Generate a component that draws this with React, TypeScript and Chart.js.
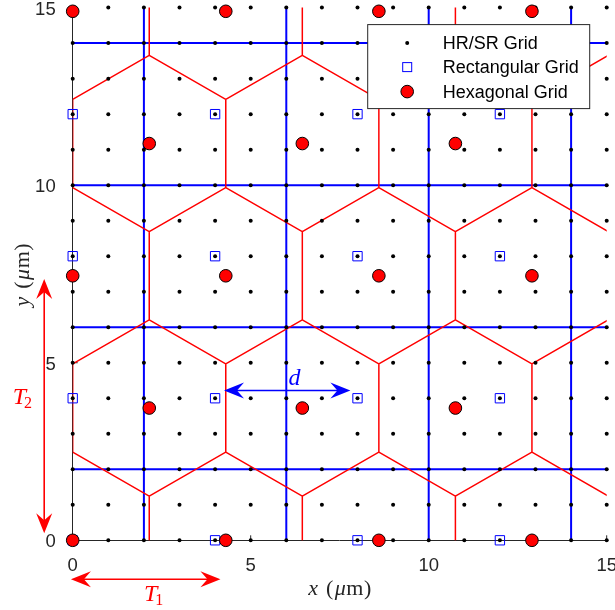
import { useEffect, useRef } from "react";
import { Chart, registerables } from "chart.js";

Chart.register(...registerables);

// HR/SR sampling grid: one sample per micron in each direction
const hrX = [0, 1, 2, 3, 4, 5, 6, 7, 8, 9, 10, 11, 12, 13, 14, 15];
const hrY = [0, 1, 2, 3, 4, 5, 6, 7, 8, 9, 10, 11, 12, 13, 14, 15];

// rectangular grid sites and the walls between their cells
const rectX = [0, 4, 8, 12];
const rectY = [0, 4, 8, 12];
const rectWallX = [2, 6, 10, 14];
const rectWallY = [2, 6, 10, 14];

// hexagonal grid sites: even rows use hexColsEven, odd rows hexColsOdd
const hexPitch = 4.3;
const hexRowY = [0, 3.724, 7.448, 11.172, 14.896];
const hexColsEven = [0, 4.3, 8.6, 12.9];
const hexColsOdd = [2.15, 6.45, 10.75];

const axisTicks = [0, 5, 10, 15];
const AXIS_MIN = 0;
const AXIS_MAX = 15;
const legendLabels = ["HR/SR Grid", "Rectangular Grid", "Hexagonal Grid"];

type Pt = { x: number; y: number | null };

const hrPoints: Pt[] = hrY.flatMap((y) => hrX.map((x) => ({ x, y })));
const rectPoints: Pt[] = rectY.flatMap((y) => rectX.map((x) => ({ x, y })));
const hexPoints: Pt[] = hexRowY.flatMap((y, i) =>
  (i % 2 === 0 ? hexColsEven : hexColsOdd).map((x) => ({ x, y }))
);

// straight cell walls of the rectangular grid, separated by gaps
const rectWalls: Pt[] = [];
rectWallX.forEach((x) => rectWalls.push({ x, y: AXIS_MIN }, { x, y: AXIS_MAX }, { x, y: null }));
rectWallY.forEach((y) => rectWalls.push({ x: AXIS_MIN, y }, { x: AXIS_MAX, y }, { x: AXIS_MIN, y: null }));

// hexagonal cell walls: every site draws its three right-hand edges, and one
// extra ring of sites outside the frame closes the cells along the border
const hexWalls: Pt[] = (() => {
  const out: Pt[] = [];
  const step = hexRowY[1] - hexRowY[0];
  const r = hexPitch / Math.sqrt(3);
  const half = hexPitch / 2;
  const rows = [
    { y: hexRowY[0] - step, odd: true },
    ...hexRowY.map((y, i) => ({ y, odd: i % 2 === 1 })),
    { y: hexRowY[hexRowY.length - 1] + step, odd: hexRowY.length % 2 === 1 },
  ];
  rows.forEach(({ y, odd }) => {
    const base = odd ? hexColsOdd : hexColsEven;
    const cols = [base[0] - hexPitch, ...base, base[base.length - 1] + hexPitch, base[base.length - 1] + 2 * hexPitch];
    cols.forEach((x) => {
      out.push(
        { x, y: y + r },
        { x: x + half, y: y + r / 2 },
        { x: x + half, y: y - r / 2 },
        { x, y: y - r },
        { x, y: null }
      );
    });
  });
  return out;
})();

const SANS = "'Liberation Sans', Arial, sans-serif";
const SERIF = "'Liberation Serif', 'Times New Roman', serif";

function arrowHead(ctx: CanvasRenderingContext2D, tx: number, ty: number, dx: number, dy: number) {
  const L = 20, W = 8, N = 13;
  const px = -dy, py = dx;
  ctx.beginPath();
  ctx.moveTo(tx, ty);
  ctx.lineTo(tx + dx * L + px * W, ty + dy * L + py * W);
  ctx.lineTo(tx + dx * N, ty + dy * N);
  ctx.lineTo(tx + dx * L - px * W, ty + dy * L - py * W);
  ctx.closePath();
  ctx.fill();
}

function doubleArrow(ctx: CanvasRenderingContext2D, x1: number, y1: number, x2: number, y2: number, color: string) {
  const len = Math.hypot(x2 - x1, y2 - y1);
  const dx = (x2 - x1) / len, dy = (y2 - y1) / len;
  ctx.save();
  ctx.strokeStyle = color;
  ctx.fillStyle = color;
  ctx.lineWidth = 1.6;
  ctx.beginPath();
  ctx.moveTo(x1 + dx * 12, y1 + dy * 12);
  ctx.lineTo(x2 - dx * 12, y2 - dy * 12);
  ctx.stroke();
  arrowHead(ctx, x1, y1, dx, dy);
  arrowHead(ctx, x2, y2, -dx, -dy);
  ctx.restore();
}

// writes "v (μm)" in math style, centred on 0 along the baseline
function mathLabel(ctx: CanvasRenderingContext2D, v: string, size: number) {
  const parts: { t: string; it: boolean; gap: number }[] = [
    { t: v, it: true, gap: 8 },
    { t: "(", it: false, gap: 1.5 },
    { t: "\u03bc", it: true, gap: 0.5 },
    { t: "m", it: false, gap: 0.5 },
    { t: ")", it: false, gap: 0 },
  ];
  const font = (it: boolean) => `${it ? "italic " : ""}${size}px ${SERIF}`;
  let total = 0;
  parts.forEach((p) => {
    ctx.font = font(p.it);
    total += ctx.measureText(p.t).width + p.gap;
  });
  let x = -total / 2;
  ctx.textAlign = "left";
  ctx.textBaseline = "alphabetic";
  parts.forEach((p) => {
    ctx.font = font(p.it);
    ctx.fillText(p.t, x, 0);
    x += ctx.measureText(p.t).width + p.gap;
  });
}

function subscripted(ctx: CanvasRenderingContext2D, main: string, sub: string, x: number, y: number, color: string) {
  ctx.fillStyle = color;
  ctx.textAlign = "left";
  ctx.textBaseline = "alphabetic";
  ctx.font = `italic 24px ${SERIF}`;
  ctx.fillText(main, x, y);
  const w = ctx.measureText(main).width;
  ctx.font = `16px ${SERIF}`;
  ctx.fillText(sub, x + w - 2, y + 4);
}

const frame = {
  id: "frame",
  beforeDatasetsDraw(chart: any) {
    const { ctx, chartArea: ca, scales } = chart;
    ctx.save();
    ctx.strokeStyle = "#262626";
    ctx.lineWidth = 1;
    axisTicks.forEach((v) => {
      const px = scales.x.getPixelForValue(v);
      ctx.beginPath();
      ctx.moveTo(px, ca.bottom);
      ctx.lineTo(px, ca.bottom - 5);
      ctx.stroke();
      const py = scales.y.getPixelForValue(v);
      ctx.beginPath();
      ctx.moveTo(ca.left, py);
      ctx.lineTo(ca.left + 5, py);
      ctx.stroke();
    });
    ctx.restore();
  },
  afterDraw(chart: any) {
    const { ctx, chartArea: ca, scales } = chart;
    const xs = scales.x, ys = scales.y;
    ctx.save();

    // legend box
    const lw = 222, lh = 84;
    const lx = ca.right - 239, ly = ca.top + 17;
    ctx.fillStyle = "#ffffff";
    ctx.fillRect(lx, ly, lw, lh);
    ctx.strokeStyle = "#262626";
    ctx.lineWidth = 1;
    ctx.strokeRect(lx, ly, lw, lh);
    const rows = [ly + 18.5, ly + 42.5, ly + 67];
    const sx = lx + 39.5;
    ctx.fillStyle = "#000000";
    ctx.beginPath();
    ctx.arc(sx, rows[0], 2, 0, Math.PI * 2);
    ctx.fill();
    ctx.strokeStyle = "#0000ff";
    ctx.strokeRect(sx - 4.5, rows[1] - 4.5, 9, 9);
    ctx.beginPath();
    ctx.arc(sx, rows[2], 6.3, 0, Math.PI * 2);
    ctx.fillStyle = "#ff0000";
    ctx.fill();
    ctx.strokeStyle = "#000000";
    ctx.stroke();
    ctx.fillStyle = "#000000";
    ctx.font = `18px ${SANS}`;
    ctx.textAlign = "left";
    ctx.textBaseline = "middle";
    legendLabels.forEach((t, i) => ctx.fillText(t, lx + 75, rows[i] + 1));

    // spacing arrow between rectangular sites
    const dy = ys.getPixelForValue(4.22);
    doubleArrow(ctx, xs.getPixelForValue(4.25), dy, xs.getPixelForValue(7.8), dy, "#0000ff");
    ctx.fillStyle = "#0000ff";
    ctx.font = `italic 24px ${SERIF}`;
    ctx.textAlign = "center";
    ctx.textBaseline = "alphabetic";
    ctx.fillText("d", xs.getPixelForValue(6.23), ys.getPixelForValue(4.36));

    // hexagonal lattice periods
    const t1y = ca.bottom + 39;
    doubleArrow(ctx, xs.getPixelForValue(-0.05), t1y, xs.getPixelForValue(4.15), t1y, "#ff0000");
    subscripted(ctx, "T", "1", xs.getPixelForValue(2.0), ca.bottom + 61, "#ff0000");
    const t2x = ca.left - 28.5;
    doubleArrow(ctx, t2x, ys.getPixelForValue(0.2), t2x, ys.getPixelForValue(7.36), "#ff0000");
    subscripted(ctx, "T", "2", ca.left - 60, ys.getPixelForValue(3.85), "#ff0000");

    // axis titles
    ctx.fillStyle = "#262626";
    ctx.save();
    ctx.translate((ca.left + ca.right) / 2, ca.bottom + 55);
    mathLabel(ctx, "x", 22);
    ctx.restore();
    ctx.save();
    ctx.translate(ca.left - 43.5, (ca.top + ca.bottom) / 2 + 1);
    ctx.rotate(-Math.PI / 2);
    mathLabel(ctx, "y", 22);
    ctx.restore();

    ctx.restore();
  },
};

function noEdgePadding(s: any) {
  s.paddingLeft = 0;
  s.paddingRight = 0;
  s.paddingTop = 0;
  s.paddingBottom = 0;
}

export default function App() {
  const ref = useRef<HTMLCanvasElement | null>(null);

  useEffect(() => {
    if (!ref.current) return;
    const tickFont = { family: SANS, size: 18.5 };
    const chart = new Chart(ref.current, {
      type: "scatter",
      data: {
        datasets: [
          {
            label: "Hexagonal Grid",
            data: hexPoints as any,
            pointStyle: "circle",
            pointRadius: 6.3,
            backgroundColor: "#ff0000",
            borderColor: "#000000",
            borderWidth: 1,
            order: 0,
            clip: false as any,
          },
          {
            label: "Rectangular Grid",
            data: rectPoints as any,
            pointStyle: "rect",
            pointRadius: 6.6,
            backgroundColor: "rgba(0,0,0,0)",
            borderColor: "#0000ff",
            borderWidth: 1,
            order: 1,
            clip: false as any,
          },
          {
            label: "HR/SR Grid",
            data: hrPoints as any,
            pointStyle: "circle",
            pointRadius: 2,
            backgroundColor: "#000000",
            borderWidth: 0,
            order: 2,
            clip: false as any,
          },
          {
            label: "hex cells",
            data: hexWalls as any,
            showLine: true,
            spanGaps: false,
            pointRadius: 0,
            borderColor: "#ff0000",
            borderWidth: 1.5,
            order: 3,
          },
          {
            label: "rect cells",
            data: rectWalls as any,
            showLine: true,
            spanGaps: false,
            pointRadius: 0,
            borderColor: "#0000ff",
            borderWidth: 2,
            order: 4,
          },
        ],
      },
      options: {
        responsive: false,
        animation: false,
        events: [],
        layout: { padding: { top: 6.3, right: 8.3, left: 0, bottom: 0 } },
        plugins: { legend: { display: false }, tooltip: { enabled: false } },
        scales: {
          x: {
            type: "linear",
            min: AXIS_MIN,
            max: AXIS_MAX,
            afterBuildTicks: (s: any) => {
              s.ticks = axisTicks.map((value) => ({ value }));
            },
            afterFit: (s: any) => {
              s.height = 69.7;
              noEdgePadding(s);
            },
            grid: { display: false },
            border: { display: true, color: "#262626", width: 1 },
            ticks: { font: tickFont, color: "#262626", padding: 7, maxRotation: 0, autoSkip: false },
          },
          y: {
            type: "linear",
            min: AXIS_MIN,
            max: AXIS_MAX,
            afterBuildTicks: (s: any) => {
              s.ticks = axisTicks.map((value) => ({ value }));
            },
            afterFit: (s: any) => {
              s.width = 72.7;
              noEdgePadding(s);
            },
            grid: { display: false },
            border: { display: true, color: "#262626", width: 1 },
            ticks: { font: tickFont, color: "#262626", padding: 9, labelOffset: 2, autoSkip: false },
          },
        },
      },
      plugins: [frame],
    });
    return () => chart.destroy();
  }, []);

  return (
    <div style={{ position: "fixed", left: 0, top: 0, width: 615, height: 610, background: "#ffffff" }}>
      <canvas ref={ref} width={615} height={610} style={{ display: "block" }} />
    </div>
  );
}
